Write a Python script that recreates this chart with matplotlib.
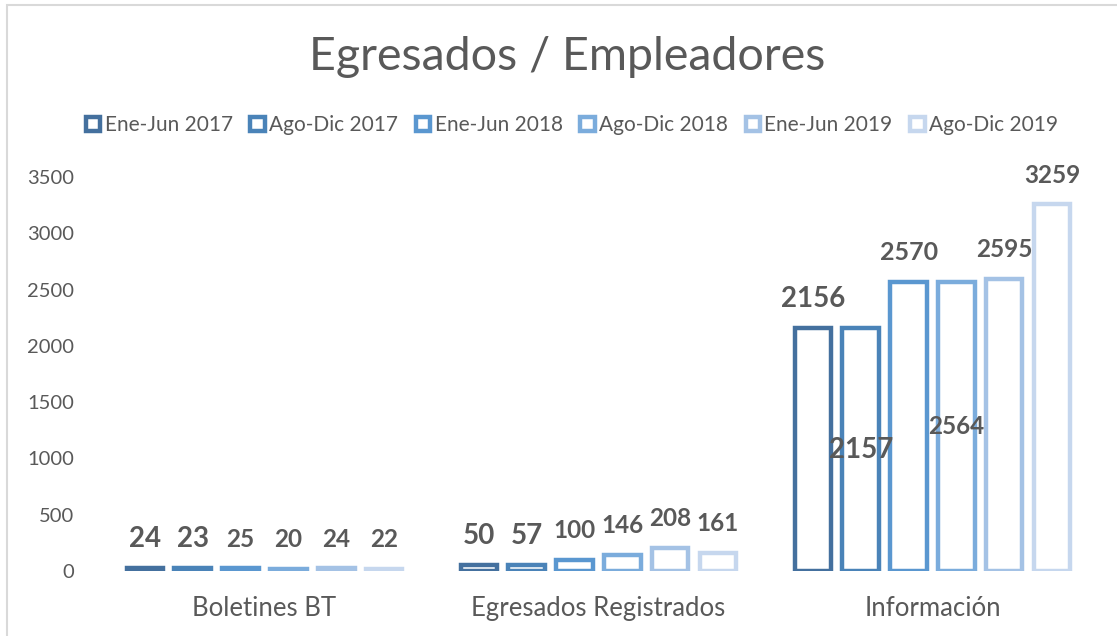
import numpy as np
import matplotlib.pyplot as plt
from matplotlib.patches import Patch, Rectangle

plt.rcParams['font.family'] = ['Lato', 'DejaVu Sans']

categorias = ['Boletines BT', 'Egresados Registrados', 'Información']
series = ['Ene-Jun 2017', 'Ago-Dic 2017', 'Ene-Jun 2018',
          'Ago-Dic 2018', 'Ene-Jun 2019', 'Ago-Dic 2019']
valores = [
    [24, 50, 2156],
    [23, 57, 2157],
    [25, 100, 2570],
    [20, 146, 2564],
    [24, 208, 2595],
    [22, 161, 3259],
]

colores = ['#44709E', '#4A83B8', '#5A97D0', '#7BACDC', '#A4C2E5', '#C6D7EE']
# tamaño de cada etiqueta (pt) y si va centrada dentro de la barra
tam = [
    [20, 20, 20],
    [20, 20, 20],
    [17.5, 17.5, 18],
    [17.5, 17.5, 17.5],
    [17.5, 17.5, 17.5],
    [17.5, 17.5, 17.5],
]
dentro = [
    [False, False, False],
    [False, False, True],
    [False, False, False],
    [False, False, True],
    [False, False, False],
    [False, False, False],
]

gris = '#595959'
fig = plt.figure(figsize=(11.17, 6.36), dpi=100)
ax = fig.add_axes([0.0873, 0.1022, 0.897, 0.6195])

x = np.arange(len(categorias))
paso = 0.143
ancho = 0.11
for i, s in enumerate(series):
    pos = x + (i - 2.5) * paso
    barras = ax.bar(pos, valores[i], width=ancho, facecolor='white',
                    edgecolor=colores[i], linewidth=3.2, label=s)
    for j, b in enumerate(barras):
        v = valores[i][j]
        if dentro[i][j]:
            ax.annotate(str(v), (b.get_x() + b.get_width() / 2, v / 2),
                        ha='center', va='center', fontsize=tam[i][j],
                        fontweight='bold', color=gris, annotation_clip=False)
        else:
            ax.annotate(str(v), (b.get_x() + b.get_width() / 2, v),
                        xytext=(0, 29), textcoords='offset pixels',
                        ha='center', va='center', fontsize=tam[i][j],
                        fontweight='bold', color=gris, annotation_clip=False)

ax.set_xlim(-0.5, 2.5)
ax.set_ylim(0, 3500)
ax.set_yticks(np.arange(0, 3501, 500))
ax.set_xticks(x)
ax.set_xticklabels(categorias, fontsize=18.5, color=gris)
ax.tick_params(axis='y', labelsize=14.5, colors=gris, length=0, pad=17)
ax.tick_params(axis='x', length=0, pad=18)
for sp in ax.spines.values():
    sp.set_visible(False)

handles = [Patch(facecolor='white', edgecolor=c, linewidth=3.2) for c in colores]
fig.legend(handles, series, loc='center', bbox_to_anchor=(0.512, 0.803),
           ncol=6, frameon=False, fontsize=15, labelcolor=gris,
           handlelength=0.7, handleheight=0.7, handletextpad=0.2,
           columnspacing=0.85)

fig.text(0.508, 0.91, 'Egresados / Empleadores', ha='center', va='center',
         fontsize=33.5, color=gris)

fig.add_artist(Rectangle((7 / 1117, -0.1), 1.2, 1 - 5 / 636 + 0.1,
                         transform=fig.transFigure, fill=False,
                         edgecolor='#D9D9D9', linewidth=1.5))

fig.savefig('out.png', dpi=100)
